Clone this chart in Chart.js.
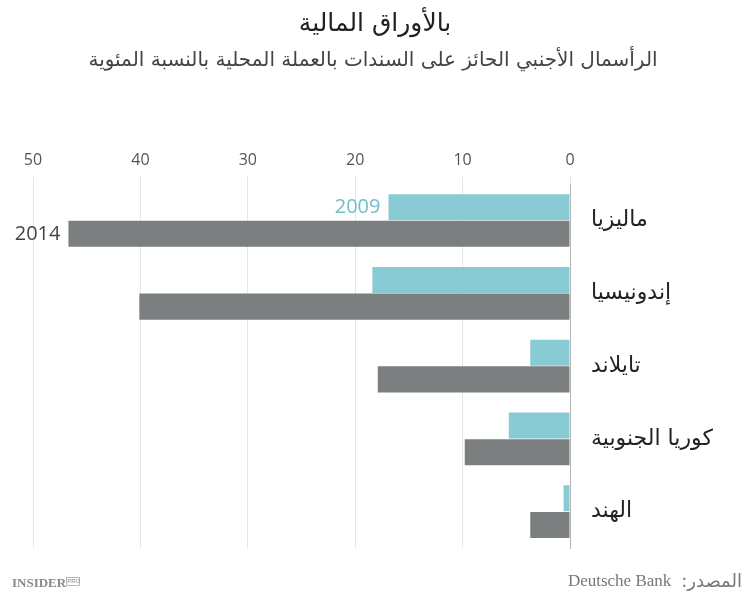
<!DOCTYPE html>
<html>
  <head>
    <meta charset="utf-8" />
    <title>بالأوراق المالية</title>
    <style>
      body {
        margin: 0;
        background: #fff;
      }
      canvas {
        display: block;
      }
    </style>
  </head>
  <body>
    <canvas id="bars" width="750" height="603"></canvas>

    <script src="https://cdn.jsdelivr.net/npm/chart.js"></script>
    <script>
      // Data
      var countries = ["ماليزيا", "إندونيسيا", "تايلاند", "كوريا الجنوبية", "الهند"]
      var values2009 = [16.9, 18.4, 3.7, 5.7, 0.6]
      var values2014 = [46.7, 40.1, 17.9, 9.8, 3.7]
      var seriesNames = ["2009", "2014"]
      var tickMin = 0
      var tickMax = 50
      var tickStep = 10

      var titleText = "بالأوراق المالية"
      var subtitleText = "الرأسمال الأجنبي الحائز على السندات بالعملة المحلية بالنسبة المئوية"
      var sourceLabel = "المصدر:"
      var sourceName = "Deutsche Bank"

      var arabicFont = "'DejaVu Sans', 'Noto Sans', sans-serif"

      // Titles, footer and the two series labels
      var decorations = {
        id: "decorations",
        afterDraw: function (chart) {
          var c = chart.ctx
          c.save()
          c.textBaseline = "middle"

          c.fillStyle = "#222"
          c.textAlign = "center"
          c.font = "25px " + arabicFont
          c.fillText(titleText, 375, 24)
          c.fillStyle = "#444"
          c.font = "20px " + arabicFont
          c.fillText(subtitleText, 373, 61)

          // series labels next to the first pair of bars
          var b09 = chart.getDatasetMeta(0).data[0]
          var b14 = chart.getDatasetMeta(1).data[0]
          c.textAlign = "right"
          c.font = "20px 'Open Sans', sans-serif"
          c.fillStyle = "#6fc0cb"
          c.fillText(seriesNames[0], b09.x - 8, b09.y)
          c.fillStyle = "#444"
          c.fillText(seriesNames[1], b14.x - 8, b14.y)

          // footer
          c.fillStyle = "#777"
          c.font = "18px " + arabicFont
          c.direction = "rtl"
          c.textAlign = "right"
          c.fillText(sourceLabel, 742, 582)
          var lw = c.measureText(sourceLabel).width
          c.direction = "ltr"
          c.font = "17px 'Liberation Serif', serif"
          c.fillText(sourceName, 742 - lw - 10, 582)

          c.textAlign = "left"
          c.fillStyle = "#8a8a8a"
          c.font = "bold 13px 'Liberation Serif', serif"
          c.fillText("INSIDER", 12, 584)
          var w = c.measureText("INSIDER").width
          c.font = "6px 'Liberation Sans', sans-serif"
          c.fillText("PRO", 13 + w, 581)
          c.strokeStyle = "#8a8a8a"
          c.lineWidth = 0.6
          c.strokeRect(12.5 + w, 577.5, 13, 8)
          c.restore()
        },
      }

      var config = {
        type: "bar",
        data: {
          labels: countries,
          datasets: [
            {
              label: seriesNames[0],
              data: values2009,
              backgroundColor: "#88cbd4",
              categoryPercentage: 0.73,
              barPercentage: 0.98,
            },
            {
              label: seriesNames[1],
              data: values2014,
              backgroundColor: "#7b7f7f",
              categoryPercentage: 0.73,
              barPercentage: 0.98,
            },
          ],
        },
        options: {
          indexAxis: "y",
          responsive: false,
          animation: false,
          layout: {
            padding: { top: 145, left: 33, right: 0, bottom: 55 },
          },
          plugins: {
            legend: { display: false },
            tooltip: { enabled: false },
          },
          scales: {
            x: {
              position: "top",
              reverse: true,
              min: tickMin,
              max: tickMax,
              ticks: {
                stepSize: tickStep,
                color: "#555",
                padding: 6,
                font: { family: "'Open Sans', sans-serif", size: 16 },
              },
              grid: {
                color: "#e6e6e6",
                tickColor: "#e6e6e6",
                tickLength: 8,
              },
              border: { display: false },
            },
            y: {
              position: "right",
              afterFit: function (scale) {
                scale.width = 180
              },
              ticks: {
                color: "#222",
                padding: 13,
                font: { family: arabicFont, size: 22 },
              },
              grid: { display: false },
              border: { display: true, color: "#b5b5b5", width: 1 },
            },
          },
        },
        plugins: [decorations],
      }

      new Chart(document.getElementById("bars").getContext("2d"), config)
    </script>
  </body>
</html>
